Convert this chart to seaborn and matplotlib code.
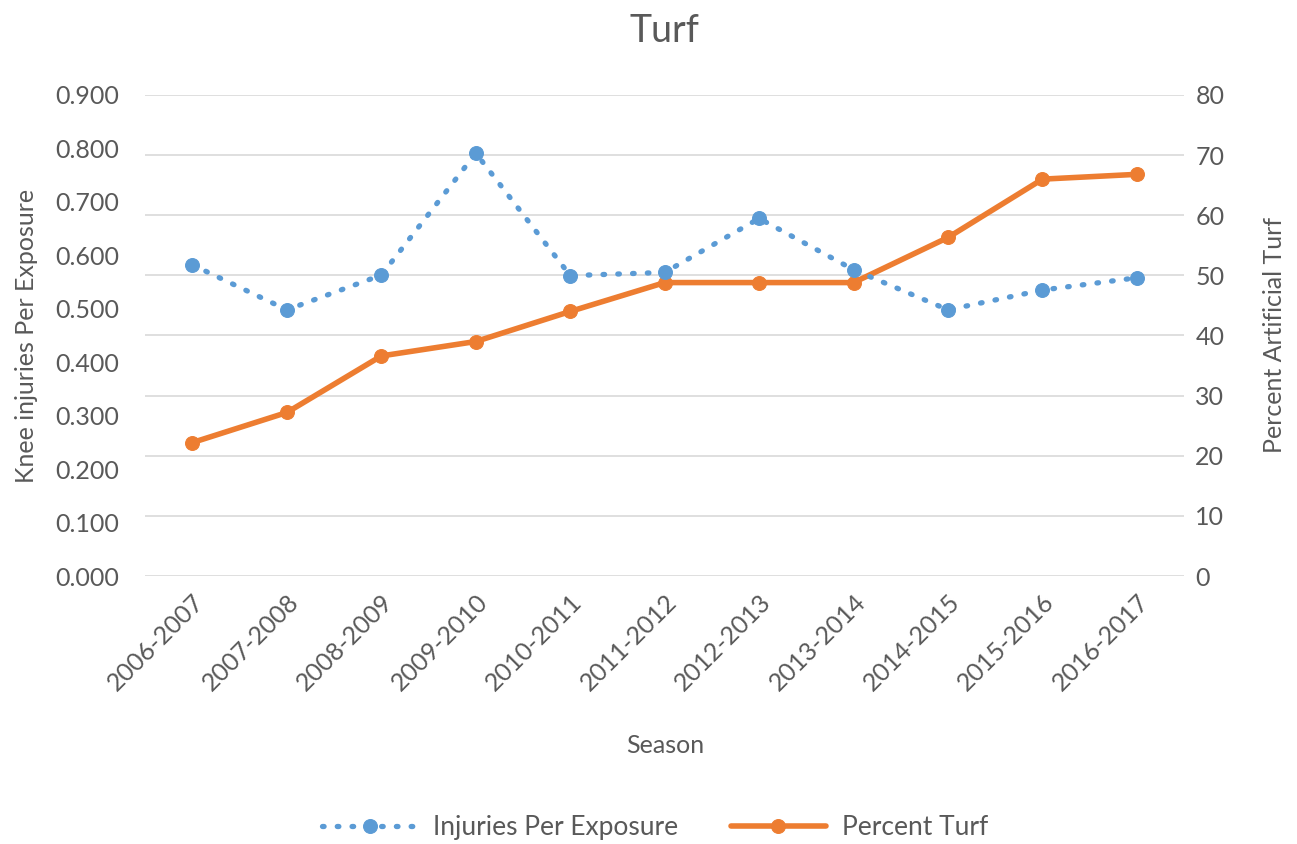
import matplotlib
matplotlib.use("Agg")
import matplotlib.pyplot as plt
import seaborn as sns
import pandas as pd

# Datos
seasons = ["2006-2007", "2007-2008", "2008-2009", "2009-2010", "2010-2011", "2011-2012",
           "2012-2013", "2013-2014", "2014-2015", "2015-2016", "2016-2017"]
injuries = [0.582, 0.498, 0.563, 0.791, 0.562, 0.568, 0.669, 0.573, 0.498, 0.535, 0.558]
pct_turf = [22.2, 27.2, 36.6, 39.0, 44.0, 48.8, 48.8, 48.8, 56.3, 66.0, 66.8]

left_ticks = [0.0, 0.1, 0.2, 0.3, 0.4, 0.5, 0.6, 0.7, 0.8, 0.9]
right_ticks = [0, 10, 20, 30, 40, 50, 60, 70, 80]

df = pd.DataFrame({"season": seasons, "injuries": injuries, "turf": pct_turf})

sns.set_theme(style="white")
plt.rcParams["font.family"] = ["Lato", "DejaVu Sans"]
text_color = "#595959"
blue = "#5B9BD5"
orange = "#ED7D31"

fig = plt.figure(figsize=(12.97, 8.44), dpi=100)
ax = fig.add_axes([0.112, 0.3175, 0.801, 0.570])
ax2 = ax.twinx()

sns.lineplot(data=df, x="season", y="turf", ax=ax2, color=orange, linewidth=4,
             marker="o", markersize=10, markeredgecolor=orange, label="Percent Turf",
             legend=False)
sns.lineplot(data=df, x="season", y="injuries", ax=ax, color=blue, linewidth=3.8,
             linestyle=(0, (0.3, 2.5)), dash_capstyle="round", marker="o", markersize=10,
             markeredgecolor=blue, label="Injuries Per Exposure", legend=False)

# eje izquierdo encima para que la serie azul quede delante
ax.set_zorder(ax2.get_zorder() + 1)
ax.patch.set_visible(False)

ax.set_ylim(0, 0.9)
ax2.set_ylim(0, 80)
ax.set_xlim(-0.5, len(seasons) - 0.5)
ax.set_yticks(left_ticks)
ax.set_yticklabels([f"{v:.3f}" for v in left_ticks])
ax2.set_yticks(right_ticks)
ax2.grid(True, axis="y", color="#D9D9D9", linewidth=1.2)
ax.grid(False)

for a in (ax, ax2):
    for s in a.spines.values():
        s.set_visible(False)
    a.tick_params(length=0, labelsize=18, colors=text_color)

ax.tick_params(axis="y", pad=19)
ax2.tick_params(axis="y", pad=8)
plt.setp(ax.get_xticklabels(), rotation=45, ha="right", rotation_mode="anchor")
ax.tick_params(axis="x", pad=10)

ax.set_xlabel("Season", fontsize=18, color=text_color, labelpad=28)
ax.set_ylabel("Knee injuries Per Exposure", fontsize=18, color=text_color, labelpad=12)
ax2.set_ylabel("Percent Artificial Turf", fontsize=18, color=text_color, labelpad=28)
ax2.set_xlabel("")
ax.set_title("Turf", fontsize=27, color=text_color, pad=38)

h1, l1 = ax.get_legend_handles_labels()
h2, l2 = ax2.get_legend_handles_labels()
fig.legend(h1 + h2, l1 + l2, loc="center", bbox_to_anchor=(0.505, 0.019), ncol=2,
           frameon=False, fontsize=19, labelcolor=text_color, handlelength=3.6,
           handletextpad=0.6, columnspacing=2.0)

fig.savefig("out.png", dpi=100)
